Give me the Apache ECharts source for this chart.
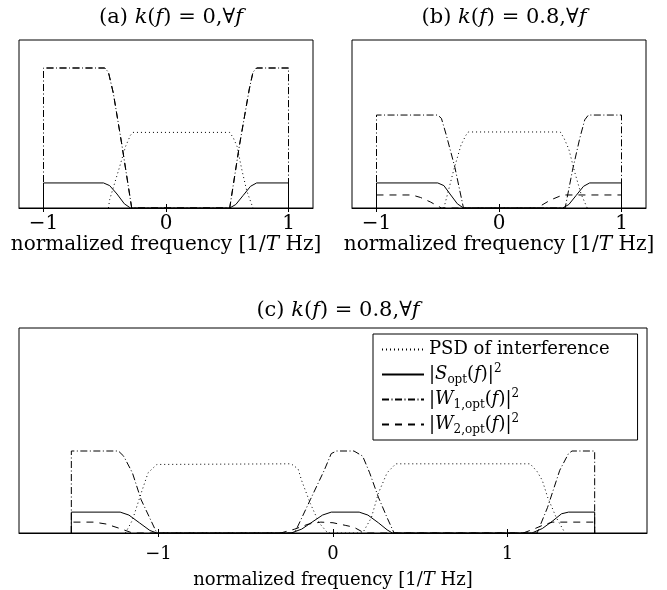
<!DOCTYPE html>
<html>
<head>
<meta charset="utf-8">
<script src="https://cdn.jsdelivr.net/npm/echarts@6/dist/echarts.min.js"></script>
<style>
  html, body { margin: 0; padding: 0; background: #fff; }
  #chart { width: 667px; height: 590px; }
</style>
</head>
<body>
<div id="chart"></div>
<script>
  // tick positions (normalized frequency)
  const xTicks = [-1, 0, 1];

  // (a) k(f) = 0 : W1 and W2 coincide
  const aPsd = [[-0.47, 0], [-0.46, 0.06], [-0.38, 0.29], [-0.33, 0.44], [-0.29, 0.52], [-0.27, 0.54], [0.52, 0.54], [0.55, 0.5], [0.58, 0.44], [0.62, 0.27], [0.66, 0.12], [0.71, 0]];
  const aS = [[-1, 0], [-1, 0.179], [-0.51, 0.179], [-0.46, 0.16], [-0.4, 0.1], [-0.34, 0.03], [-0.29, 0], [0.52, 0], [0.57, 0.025], [0.63, 0.09], [0.69, 0.155], [0.74, 0.179], [1, 0.179], [1, 0]];
  const aW1 = [[-1, 0], [-1, 1], [-0.5, 1], [-0.47, 0.97], [-0.43, 0.82], [-0.36, 0.45], [-0.28, 0], [0.52, 0], [0.6, 0.45], [0.68, 0.85], [0.71, 0.97], [0.74, 1], [1, 1], [1, 0]];
  const aW2 = [[-1, 0], [-1, 1], [-0.5, 1], [-0.47, 0.97], [-0.43, 0.82], [-0.36, 0.45], [-0.28, 0], [0.52, 0], [0.6, 0.45], [0.68, 0.85], [0.71, 0.97], [0.74, 1], [1, 1], [1, 0]];

  // (b) k(f) = 0.8
  const bPsd = [[-0.45, 0], [-0.42, 0.1], [-0.37, 0.27], [-0.31, 0.45], [-0.27, 0.52], [-0.25, 0.543], [0.5, 0.543], [0.53, 0.5], [0.57, 0.42], [0.62, 0.25], [0.67, 0.1], [0.72, 0]];
  const bS = [[-1, 0], [-1, 0.179], [-0.5, 0.179], [-0.45, 0.16], [-0.4, 0.1], [-0.34, 0.03], [-0.29, 0], [0.52, 0], [0.57, 0.025], [0.63, 0.09], [0.69, 0.155], [0.74, 0.179], [1, 0.179], [1, 0]];
  const bW1 = [[-1, 0], [-1, 0.664], [-0.5, 0.664], [-0.47, 0.64], [-0.43, 0.52], [-0.36, 0.29], [-0.29, 0], [0.54, 0], [0.6, 0.27], [0.66, 0.5], [0.7, 0.63], [0.73, 0.664], [1, 0.664], [1, 0]];
  const bW2 = [[-1, 0], [-1, 0.093], [-0.71, 0.093], [-0.64, 0.075], [-0.56, 0.043], [-0.47, 0], [0.31, 0], [0.42, 0.057], [0.52, 0.093], [1, 0.093], [1, 0]];

  // (c) k(f) = 0.8, wider band
  const cPsd = [[-1.19, 0], [-1.15, 0.1], [-1.1, 0.31], [-1.06, 0.47], [-1.01, 0.535], [-0.24, 0.54], [-0.2, 0.5], [-0.18, 0.41], [-0.13, 0.23], [-0.08, 0.08], [-0.03, 0], [0.17, 0], [0.22, 0.12], [0.26, 0.31], [0.31, 0.47], [0.36, 0.54], [1.13, 0.54], [1.17, 0.48], [1.2, 0.41], [1.23, 0.28], [1.28, 0.12], [1.33, 0]];
  const cS = [[-1.5, 0], [-1.5, 0.163], [-1.22, 0.163], [-1.17, 0.14], [-1.11, 0.08], [-1.05, 0.02], [-1.01, 0], [-0.24, 0], [-0.18, 0.03], [-0.12, 0.085], [-0.06, 0.14], [-0.01, 0.163], [0.15, 0.163], [0.2, 0.14], [0.26, 0.08], [0.31, 0.025], [0.34, 0], [1.14, 0], [1.2, 0.035], [1.26, 0.095], [1.31, 0.15], [1.35, 0.163], [1.5, 0.163], [1.5, 0]];
  const cW1 = [[-1.5, 0], [-1.5, 0.64], [-1.23, 0.64], [-1.2, 0.6], [-1.15, 0.47], [-1.1, 0.26], [-1.01, 0], [-0.22, 0], [-0.13, 0.26], [-0.05, 0.49], [-0.01, 0.62], [0.02, 0.64], [0.12, 0.64], [0.17, 0.6], [0.21, 0.47], [0.26, 0.28], [0.31, 0.12], [0.35, 0], [1.17, 0], [1.23, 0.2], [1.3, 0.49], [1.35, 0.62], [1.37, 0.64], [1.5, 0.64], [1.5, 0]];
  const cW2 = [[-1.5, 0], [-1.5, 0.085], [-1.37, 0.085], [-1.3, 0.07], [-1.21, 0.03], [-1.15, 0], [-0.3, 0], [-0.22, 0.03], [-0.14, 0.07], [-0.07, 0.085], [0, 0.08], [0.07, 0.06], [0.12, 0.045], [0.18, 0], [1.09, 0], [1.15, 0.03], [1.21, 0.065], [1.26, 0.085], [1.5, 0.085], [1.5, 0]];

  const legendNames = ["psd", "S", "W1", "W2"];
  const legendLabels = [
    "PSD of interference",
    "|{i|S}{sub|opt}({i|f})|{sup|2}",
    "|{i|W}{sub|1,opt}({i|f})|{sup|2}",
    "|{i|W}{sub|2,opt}({i|f})|{sup|2}"
  ];

  const FONT = "DejaVu Serif";
  const dotted = [1, 3];
  const dashed = [7, 6];
  const dashdot = [7, 2.5, 1, 2.5];

  function rich(size) {
    return {
      i: { fontFamily: FONT, fontStyle: "italic", fontSize: size, color: "#000" },
      sub: { fontFamily: FONT, fontSize: Math.round(size * 0.65), color: "#000", verticalAlign: "bottom", lineHeight: 12 },
      sup: { fontFamily: FONT, fontSize: Math.round(size * 0.65), color: "#000", verticalAlign: "top", lineHeight: 12 }
    };
  }

  function bottomAxis(grid, min, max, size, margin, gap) {
    return {
      type: "value", gridIndex: grid, position: "bottom", min: min, max: max,
      axisLine: { show: true, onZero: false, lineStyle: { color: "#000", width: 1 } },
      axisTick: { show: true, inside: true, length: 4, customValues: xTicks, lineStyle: { color: "#000" } },
      axisLabel: {
        customValues: xTicks, margin: margin, color: "#000", fontFamily: FONT, fontSize: size,
        formatter: v => String(v).replace("-", "\u2212")
      },
      splitLine: { show: false },
      name: "normalized frequency [1/{i|T} Hz]",
      nameLocation: "middle", nameGap: gap,
      nameTextStyle: { color: "#000", fontFamily: FONT, fontSize: size, rich: rich(size) }
    };
  }
  function topAxis(grid, min, max) {
    return {
      type: "value", gridIndex: grid, position: "top", min: min, max: max,
      axisLine: { show: false },
      axisTick: { show: true, inside: true, length: 4, customValues: xTicks, lineStyle: { color: "#000" } },
      axisLabel: { show: false },
      splitLine: { show: false }
    };
  }
  function yAx(grid, max) {
    return { type: "value", gridIndex: grid, min: 0, max: max, show: false, splitLine: { show: false } };
  }
  function line(name, data, dash, xi, yi) {
    return {
      name: name, type: "line", data: data, xAxisIndex: xi, yAxisIndex: yi,
      symbol: "none", silent: true, z: 3,
      lineStyle: { color: "#000", width: 1, type: dash }
    };
  }
  function title(text, x, y) {
    return {
      text: text, left: x, top: y, textAlign: "center",
      textStyle: { fontFamily: FONT, fontSize: 21, fontWeight: "normal", color: "#000", rich: rich(21) }
    };
  }

  let chart = echarts.init(document.getElementById("chart"), null, { renderer: "canvas" });
  let option = {
    animation: false,
    backgroundColor: "#fff",
    title: [
      title("(a) {i|k}({i|f}) = 0,\u2200{i|f}", 166, 2),
      title("(b) {i|k}({i|f}) = 0.8,\u2200{i|f}", 499, 2),
      title("(c) {i|k}({i|f}) = 0.8,\u2200{i|f}", 333, 295)
    ],
    grid: [
      { left: 19, top: 40, width: 294, height: 168, show: true, borderColor: "#000", borderWidth: 1, backgroundColor: "#fff" },
      { left: 352, top: 40, width: 294, height: 168, show: true, borderColor: "#000", borderWidth: 1, backgroundColor: "#fff" },
      { left: 19, top: 328, width: 628, height: 205, show: true, borderColor: "#000", borderWidth: 1, backgroundColor: "#fff" }
    ],
    xAxis: [
      bottomAxis(0, -1.2, 1.2, 20, 6, 27), topAxis(0, -1.2, 1.2),
      bottomAxis(1, -1.2, 1.2, 20, 6, 27), topAxis(1, -1.2, 1.2),
      bottomAxis(2, -1.8, 1.8, 18, 12, 38), topAxis(2, -1.8, 1.8)
    ],
    yAxis: [yAx(0, 1.2), yAx(1, 1.2), yAx(2, 1.6)],
    legend: {
      data: legendNames,
      orient: "vertical",
      left: 373, top: 334,
      padding: [4, 28, 4, 8],
      itemWidth: 42, itemHeight: 12, itemGap: 2,
      backgroundColor: "#fff", borderColor: "#000", borderWidth: 1,
      selectedMode: false,
      itemStyle: { color: "rgba(0,0,0,0)", borderColor: "rgba(0,0,0,0)", borderWidth: 0 },
      formatter: name => legendLabels[legendNames.indexOf(name)],
      textStyle: { fontFamily: FONT, fontSize: 18, color: "#000", lineHeight: 23, rich: rich(18) }
    },
    series: [
      line("a-psd", aPsd, dotted, 0, 0),
      line("a-S", aS, "solid", 0, 0),
      line("a-W1", aW1, dashdot, 0, 0),
      line("a-W2", aW2, dashed, 0, 0),
      line("b-psd", bPsd, dotted, 2, 1),
      line("b-S", bS, "solid", 2, 1),
      line("b-W1", bW1, dashdot, 2, 1),
      line("b-W2", bW2, dashed, 2, 1),
      line("psd", cPsd, dotted, 4, 2),
      line("S", cS, "solid", 4, 2),
      line("W1", cW1, dashdot, 4, 2),
      line("W2", cW2, dashed, 4, 2)
    ]
  };
  chart.setOption(option);
</script>
</body>
</html>
